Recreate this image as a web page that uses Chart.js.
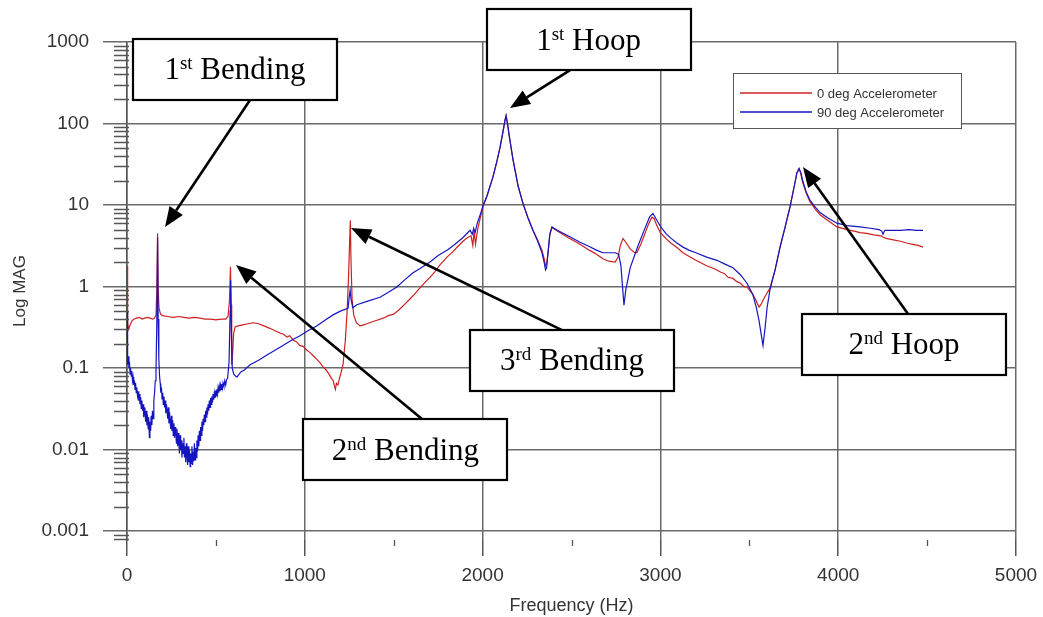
<!DOCTYPE html>
<html>
<head>
<meta charset="utf-8">
<script src="https://cdn.jsdelivr.net/npm/chart.js@4.4.1/dist/chart.umd.min.js"></script>
<style>
html,body{margin:0;padding:0;background:#fff;}
#wrap{width:1043px;height:617px;position:relative;}
</style>
</head>
<body>
<div id="wrap"><canvas id="c"></canvas></div>
<script>
// ---------- data ----------
const seriesNames = ['0 deg Accelerometer', '90 deg Accelerometer'];

const redFreq = [0,2,5,10,18,28,40,55,70,85,100,115,130,145,155,163,168,172,175,180,188,200,230,260,290,320,350,380,410,440,470,500,530,555,568,576,582,585,589,594,600,608,625,650,680,710,740,770,800,830,860,880,900,915,935,955,970,990,1012,1030,1050,1065,1085,1100,1120,1135,1150,1160,1167,1172,1178,1186,1195,1205,1215,1228,1238,1246,1252,1256,1260,1266,1275,1290,1310,1330,1350,1380,1410,1440,1470,1500,1530,1560,1590,1620,1650,1680,1704,1730,1760,1800,1830,1860,1890,1915,1935,1945,1952,1960,1972,1990,2002,2025,2058,2080,2098,2115,2126,2132,2140,2150,2171,2200,2227,2255,2283,2310,2334,2346,2354,2360,2368,2378,2390,2420,2480,2548,2600,2640,2677,2710,2745,2762,2775,2790,2805,2830,2855,2868,2890,2910,2930,2952,2965,2980,3000,3030,3060,3095,3127,3160,3200,3230,3260,3290,3318,3340,3360,3380,3408,3430,3450,3470,3487,3505,3520,3535,3545,3555,3565,3580,3595,3616,3645,3673,3700,3729,3755,3768,3780,3790,3800,3820,3841,3870,3898,3940,3993,4050,4090,4123,4160,4200,4240,4252,4270,4310,4350,4390,4420,4450,4477];
const redMag = [1.8,0.9,0.35,0.30,0.34,0.38,0.40,0.41,0.42,0.40,0.41,0.42,0.41,0.40,0.41,0.45,0.9,4.5,1.0,0.55,0.46,0.44,0.43,0.42,0.43,0.42,0.41,0.42,0.41,0.40,0.40,0.39,0.40,0.40,0.43,0.65,1.75,0.6,0.11,0.15,0.27,0.32,0.33,0.34,0.35,0.36,0.35,0.33,0.31,0.29,0.27,0.26,0.24,0.25,0.22,0.21,0.19,0.185,0.166,0.155,0.14,0.13,0.117,0.105,0.095,0.085,0.075,0.07,0.06,0.055,0.065,0.062,0.075,0.09,0.11,0.22,0.5,1.3,3.5,6.5,2.0,0.7,0.45,0.36,0.33,0.34,0.35,0.37,0.39,0.41,0.44,0.46,0.52,0.6,0.7,0.82,0.98,1.15,1.3,1.5,1.85,2.3,2.65,3.1,3.6,4.0,4.2,3.2,4.8,3.3,5.0,7.5,9.5,13,22,34,51,80,110,125,100,70,36,17,10.5,7,4.9,3.7,2.8,2.2,1.8,1.9,2.6,4.3,5.3,4.8,4.0,3.3,2.8,2.5,2.2,2.05,2.0,2.3,3.2,3.9,3.5,2.9,2.6,2.6,3.3,4.3,5.6,7.1,6.8,5.6,4.6,3.9,3.4,3.0,2.6,2.35,2.1,1.95,1.8,1.7,1.6,1.5,1.45,1.3,1.26,1.15,1.1,1.0,0.99,0.88,0.8,0.7,0.62,0.56,0.6,0.7,0.8,0.95,1.6,3.05,5.2,9.5,18,25,28,24,19,14,11,9,7.6,6.5,5.4,5.0,4.8,4.6,4.5,4.3,4.2,4.05,3.9,3.75,3.6,3.4,3.3,3.2,3.05];

const blueFreq = [0,2,5,8,11,14,17,20,24,27,31,34,38,41,45,48,52,55,59,62,66,69,73,77,80,84,87,91,94,98,101,105,108,112,115,119,122,126,129,133,136,140,143,147,151,155,159,163,168,172,175,179,183,187,190,194,197,201,204,208,211,215,218,222,225,229,232,236,239,243,246,250,253,257,260,264,267,271,274,278,281,285,288,292,295,299,302,306,309,313,316,320,323,327,330,334,337,341,344,348,351,355,358,362,365,369,372,376,379,383,386,390,393,397,400,404,407,411,414,418,421,425,428,432,435,439,442,446,449,453,456,460,463,467,470,474,477,481,484,488,491,495,498,502,505,509,512,516,519,523,526,530,533,537,540,545,550,555,560,566,574,580,583,587,592,600,610,619,640,660,692,740,787,830,877,925,973,1020,1069,1115,1159,1200,1243,1250,1255,1260,1270,1293,1350,1423,1470,1518,1560,1609,1655,1704,1750,1800,1845,1890,1929,1942,1950,1958,1970,1990,2002,2025,2058,2080,2098,2115,2126,2132,2140,2150,2171,2200,2227,2255,2283,2310,2334,2346,2354,2360,2368,2378,2390,2420,2480,2548,2600,2640,2677,2710,2745,2765,2778,2787,2795,2805,2830,2870,2910,2940,2958,2975,3000,3030,3060,3095,3127,3160,3200,3260,3318,3360,3408,3450,3487,3520,3540,3555,3568,3577,3588,3600,3616,3645,3673,3700,3729,3755,3768,3780,3790,3800,3820,3841,3870,3898,3940,3993,4050,4123,4180,4230,4245,4252,4262,4300,4350,4400,4440,4477];
const blueMag = [0.5,0.25,0.11,0.14,0.1,0.12,0.085,0.1,0.08,0.092,0.07,0.078,0.062,0.071,0.055,0.066,0.05,0.058,0.046,0.052,0.04,0.048,0.036,0.044,0.032,0.04,0.03,0.036,0.025,0.033,0.028,0.022,0.03,0.02,0.027,0.018,0.025,0.014,0.022,0.017,0.026,0.02,0.03,0.024,0.04,0.05,0.07,0.09,0.4,4.0,0.4,0.13,0.08,0.065,0.05,0.058,0.042,0.05,0.036,0.045,0.033,0.04,0.028,0.036,0.03,0.024,0.033,0.021,0.029,0.022,0.018,0.026,0.017,0.023,0.015,0.021,0.014,0.019,0.016,0.012,0.018,0.011,0.016,0.012,0.009,0.015,0.01,0.013,0.008,0.012,0.009,0.014,0.008,0.011,0.007,0.012,0.0085,0.0065,0.011,0.007,0.01,0.0062,0.009,0.0068,0.011,0.0065,0.0095,0.0072,0.012,0.0075,0.0105,0.008,0.013,0.0095,0.015,0.011,0.017,0.013,0.019,0.015,0.022,0.017,0.024,0.02,0.027,0.022,0.03,0.025,0.033,0.027,0.036,0.03,0.04,0.033,0.043,0.036,0.045,0.038,0.048,0.041,0.05,0.044,0.053,0.046,0.055,0.048,0.057,0.05,0.06,0.052,0.062,0.055,0.064,0.057,0.066,0.06,0.07,0.062,0.072,0.075,0.12,0.5,1.2,0.3,0.1,0.085,0.08,0.078,0.09,0.095,0.11,0.125,0.145,0.165,0.19,0.22,0.25,0.29,0.33,0.39,0.45,0.5,0.54,0.75,0.9,0.7,0.55,0.6,0.66,0.74,0.85,0.99,1.2,1.48,1.7,2.0,2.4,2.8,3.3,4.0,4.9,4.4,5.2,4.6,6.0,8.0,9.8,13,22,34,51,80,110,125,100,70,36,17,10.5,7,4.9,3.6,2.6,2.0,1.6,1.7,2.6,4.4,5.4,4.9,4.2,3.5,3.1,2.8,2.6,2.6,2.6,2.5,1.8,1.0,0.59,0.9,1.7,3.0,5.0,7.2,7.9,6.8,5.5,4.5,3.9,3.4,3.05,2.8,2.6,2.3,2.1,1.9,1.7,1.4,1.1,0.8,0.55,0.38,0.25,0.19,0.3,0.55,0.91,1.6,3.05,5.2,9.5,18,25,28,25,20,14.5,11.5,9.5,8.1,7.0,6.0,5.6,5.4,5.2,5.0,4.8,4.4,4.9,4.9,4.9,5.0,4.9,4.9];

const xTickValues = [0,1000,2000,3000,4000,5000];
const xTickLabels = ['0','1000','2000','3000','4000','5000'];
const xMinorValues = [500,1500,2500,3500,4500];
const yTickValues = [0.001,0.01,0.1,1,10,100,1000];
const yTickLabels = ['0.001','0.01','0.1','1','10','100','1000'];

// annotations: tip / arrow start / box centre in data coordinates
const annotations = [
  {num:'1', sup:'st', word:' Bending', boxF:607,  boxM:460,   startF:692,  startM:194,  tipF:214,  tipM:5.37},
  {num:'1', sup:'st', word:' Hoop',    boxF:2596, boxM:1073,  startF:2492, startM:453,  tipF:2154, tipM:155},
  {num:'2', sup:'nd', word:' Bending', boxF:1566, boxM:0.01,  startF:1659, startM:0.0237, tipF:613, tipM:1.84},
  {num:'3', sup:'rd', word:' Bending', boxF:2503, boxM:0.125, startF:2447, startM:0.292, tipF:1260, tipM:5.23},
  {num:'2', sup:'nd', word:' Hoop',    boxF:4370, boxM:0.197, startF:4393, startM:0.46,  tipF:3802, tipM:29.3}
];

// ---------- helpers ----------
const toPts = (xs, ys) => xs.map((x, i) => ({x: x, y: ys[i]}));
const FONT = "'Liberation Sans', Arial, sans-serif";
Chart.defaults.font.family = FONT;

const minorTicks = {
  id: 'minorTicks',
  afterDraw(chart) {
    const ctx = chart.ctx, xs = chart.scales.x, ys = chart.scales.y;
    ctx.save();
    ctx.strokeStyle = '#555';
    ctx.lineWidth = 1.3;
    ctx.beginPath();
    for (let d = -4; d <= 2; d++) {
      for (let k = 2; k <= 9; k++) {
        const v = k * Math.pow(10, d);
        if (v < ys.min || v > ys.max) continue;
        const py = Math.round(ys.getPixelForValue(v)) + 0.5;
        ctx.moveTo(xs.left - 13, py);
        ctx.lineTo(xs.left + 2, py);
      }
    }
    xMinorValues.forEach(f => {
      const px = Math.round(xs.getPixelForValue(f)) + 0.5;
      ctx.moveTo(px, ys.bottom);
      ctx.lineTo(px, ys.bottom + 6);
    });
    ctx.stroke();
    ctx.restore();
  }
};

const boxLegend = {
  id: 'boxLegend',
  afterDraw(chart) {
    const ctx = chart.ctx;
    const bx = 733, by = 73, bw = 228, bh = 55;
    ctx.save();
    ctx.fillStyle = '#fff';
    ctx.fillRect(bx, by, bw, bh);
    ctx.strokeStyle = '#555';
    ctx.lineWidth = 1;
    ctx.strokeRect(bx + 0.5, by + 0.5, bw, bh);
    ctx.font = '13px ' + FONT;
    ctx.textBaseline = 'middle';
    chart.data.datasets.forEach((ds, i) => {
      const y = by + 20 + i * 19;
      ctx.strokeStyle = ds.borderColor;
      ctx.lineWidth = 1.5;
      ctx.beginPath();
      ctx.moveTo(bx + 7, y);
      ctx.lineTo(bx + 79, y);
      ctx.stroke();
      ctx.fillStyle = '#333';
      ctx.fillText(ds.label, bx + 84, y + 1);
    });
    ctx.restore();
  }
};

const arrowNotes = {
  id: 'arrowNotes',
  afterDraw(chart) {
    const ctx = chart.ctx, xs = chart.scales.x, ys = chart.scales.y;
    const bw = 204, bh = 61;
    ctx.save();
    annotations.forEach(a => {
      const sx = xs.getPixelForValue(a.startF), sy = ys.getPixelForValue(a.startM);
      const tx = xs.getPixelForValue(a.tipF), ty = ys.getPixelForValue(a.tipM);
      const ang = Math.atan2(ty - sy, tx - sx);
      const headL = 20, headW = 8;
      const bxE = tx - headL * Math.cos(ang), byE = ty - headL * Math.sin(ang);
      ctx.strokeStyle = '#000';
      ctx.lineWidth = 2.6;
      ctx.beginPath();
      ctx.moveTo(sx, sy);
      ctx.lineTo(bxE, byE);
      ctx.stroke();
      ctx.fillStyle = '#000';
      ctx.beginPath();
      ctx.moveTo(tx, ty);
      ctx.lineTo(bxE + headW * Math.sin(ang), byE - headW * Math.cos(ang));
      ctx.lineTo(bxE - headW * Math.sin(ang), byE + headW * Math.cos(ang));
      ctx.closePath();
      ctx.fill();
      // box
      const cx = xs.getPixelForValue(a.boxF), cy = ys.getPixelForValue(a.boxM);
      const x0 = Math.round(cx - bw / 2), y0 = Math.round(cy - bh / 2);
      ctx.fillStyle = '#fff';
      ctx.fillRect(x0, y0, bw, bh);
      ctx.strokeStyle = '#000';
      ctx.lineWidth = 2.2;
      ctx.strokeRect(x0, y0, bw, bh);
      // text
      const big = "31px 'Liberation Serif', 'Times New Roman', serif";
      const small = "19px 'Liberation Serif', 'Times New Roman', serif";
      ctx.font = big; const w1 = ctx.measureText(a.num).width; const w3 = ctx.measureText(a.word).width;
      ctx.font = small; const w2 = ctx.measureText(a.sup).width;
      const total = w1 + w2 + w3;
      let x = cx - total / 2;
      const base = cy + 10;
      ctx.fillStyle = '#000';
      ctx.textBaseline = 'alphabetic';
      ctx.textAlign = 'left';
      ctx.font = big; ctx.fillText(a.num, x, base); x += w1;
      ctx.font = small; ctx.fillText(a.sup, x, base - 10); x += w2;
      ctx.font = big; ctx.fillText(a.word, x, base);
    });
    ctx.restore();
  }
};

new Chart(document.getElementById('c'), {
  type: 'scatter',
  data: {
    datasets: [
      {label: seriesNames[0], data: toPts(redFreq, redMag), showLine: true, borderColor: '#cc2020', borderWidth: 1.2, pointRadius: 0, tension: 0, order: 1},
      {label: seriesNames[1], data: toPts(blueFreq, blueMag), showLine: true, borderColor: '#1515c0', borderWidth: 1.2, pointRadius: 0, tension: 0, order: 0}
    ]
  },
  options: {
    responsive: true,
    maintainAspectRatio: false,
    animation: false,
    layout: {padding: {top: 42, right: 27, left: 0, bottom: 0}},
    plugins: {legend: {display: false}, tooltip: {enabled: false}},
    scales: {
      x: {
        type: 'linear', min: 0, max: 5000,
        afterBuildTicks: s => { s.ticks = xTickValues.map(v => ({value: v})); },
        afterFit: s => { s.height = 77; },
        ticks: {callback: (v, i) => xTickLabels[i], color: '#333', font: {size: 19, lineHeight: 1.6}, padding: 5, maxRotation: 0},
        grid: {color: '#6a6a6a', lineWidth: 1.5, tickLength: 16, tickColor: '#555'},
        border: {display: false},
        title: {display: true, text: 'Frequency (Hz)', color: '#333', font: {size: 18}, padding: {top: 0, bottom: 0}}
      },
      y: {
        type: 'logarithmic', min: 0.00078, max: 1000,
        afterBuildTicks: s => { s.ticks = yTickValues.map(v => ({value: v})); },
        afterFit: s => { s.width = 127; },
        ticks: {callback: (v, i) => yTickLabels[i], color: '#333', font: {size: 19}, padding: 14},
        grid: {color: '#6a6a6a', lineWidth: 1.5, tickLength: 24, tickColor: '#6a6a6a'},
        border: {display: true, color: '#555', width: 1.5},
        title: {display: true, text: 'Log MAG', color: '#333', font: {size: 17}, padding: {top: 10, bottom: 0}}
      }
    }
  },
  plugins: [minorTicks, arrowNotes, boxLegend]
});
</script>
</body>
</html>
